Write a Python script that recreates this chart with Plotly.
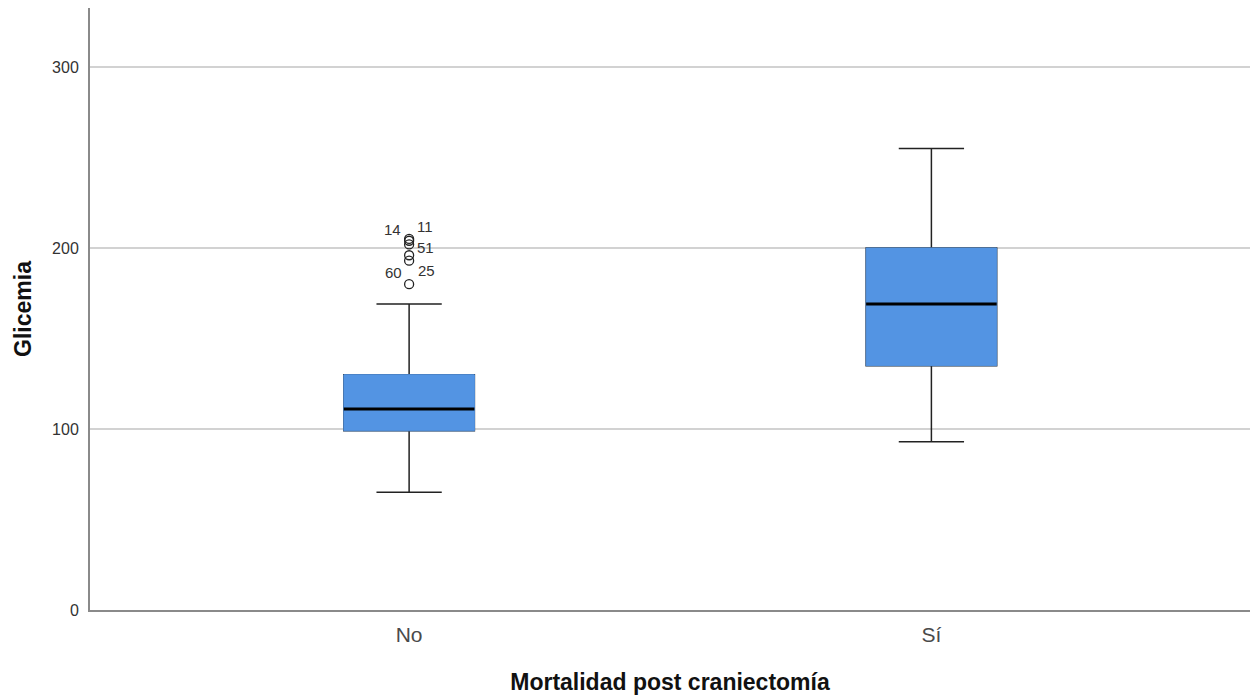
import plotly.graph_objects as go

# ---- data ----
categories = ["No", "Sí"]
cat_pos = [0, 1]
q1 = [99, 135]
median = [111, 169]
q3 = [130, 200]
lower_whisker = [65, 93]
upper_whisker = [169, 255]

outlier_values = [205, 204, 202, 196, 193, 180]
outlier_labels = ["14", "11", "51", "60", "25", ""]
outlier_xshift = [-17, 16, 16, -16, 17, 0]
outlier_yshift = [9, 14, -3, -17, -10, 0]

y_ticks = [0, 100, 200, 300]

BLUE = "#5394E3"
DARK = "#222222"
FONT = "Liberation Sans, Arial, sans-serif"

fig = go.Figure()

# whiskers + caps
fig.add_trace(go.Box(
    x=cat_pos, q1=q1, median=median, q3=q3,
    lowerfence=lower_whisker, upperfence=upper_whisker,
    width=0.25, whiskerwidth=0.5,
    fillcolor=BLUE, line=dict(color=DARK, width=1.5),
    boxpoints=False, hoverinfo="skip", showlegend=False,
))
# box body (covers border)
fig.add_trace(go.Box(
    x=cat_pos, q1=q1, median=median, q3=q3,
    lowerfence=q1, upperfence=q3,
    width=0.25, whiskerwidth=0,
    fillcolor=BLUE, line=dict(color=BLUE, width=1),
    boxpoints=False, hoverinfo="skip", showlegend=False,
))
# median line
fig.add_trace(go.Box(
    x=cat_pos, q1=median, median=median, q3=median,
    lowerfence=median, upperfence=median,
    width=0.25, whiskerwidth=0,
    fillcolor="rgba(0,0,0,0)", line=dict(color="#000000", width=3),
    boxpoints=False, hoverinfo="skip", showlegend=False,
))
# outliers
fig.add_trace(go.Scatter(
    x=[cat_pos[0]] * len(outlier_values), y=outlier_values,
    mode="markers",
    marker=dict(symbol="circle-open", size=9, color=DARK, line=dict(width=1.3)),
    showlegend=False, hoverinfo="y",
))
for v, lab, dx, dy in zip(outlier_values, outlier_labels, outlier_xshift, outlier_yshift):
    if lab:
        fig.add_annotation(x=cat_pos[0], y=v, text=lab, showarrow=False,
                           xshift=dx, yshift=dy,
                           font=dict(family=FONT, size=15, color="#333333"))

fig.update_layout(
    width=1250, height=696,
    margin=dict(l=90, r=0, t=8, b=86),
    plot_bgcolor="white", paper_bgcolor="white",
    boxmode="overlay",
    font=dict(family=FONT),
    xaxis=dict(
        range=[-0.611, 1.61],
        tickvals=cat_pos, ticktext=categories,
        tickfont=dict(family=FONT, size=21, color="#4a4a4a"),
        ticklabelstandoff=5,
        showgrid=False, zeroline=False,
        showline=True, linecolor="#8a8a8a", linewidth=2,
        ticks="", ticklen=0,
        title=dict(text="<b>Mortalidad post craniectomía</b>",
                   font=dict(family=FONT, size=23, color="#111111"), standoff=29),
    ),
    yaxis=dict(
        range=[0, 332.6],
        tickvals=y_ticks,
        tickfont=dict(family=FONT, size=16, color="#333333"),
        ticklabelstandoff=6,
        showgrid=True, gridcolor="#d2d2d2", gridwidth=1.5,
        zeroline=False,
        showline=True, linecolor="#8a8a8a", linewidth=2,
        ticks="", ticklen=0,
        title=dict(text="<b>Glicemia</b>",
                   font=dict(family=FONT, size=23, color="#111111"), standoff=14),
    ),
)

fig.write_html(
    "out.html",
    config={"displayModeBar": False},
    post_script="document.body.style.margin='0';document.body.style.overflow='hidden';",
)
